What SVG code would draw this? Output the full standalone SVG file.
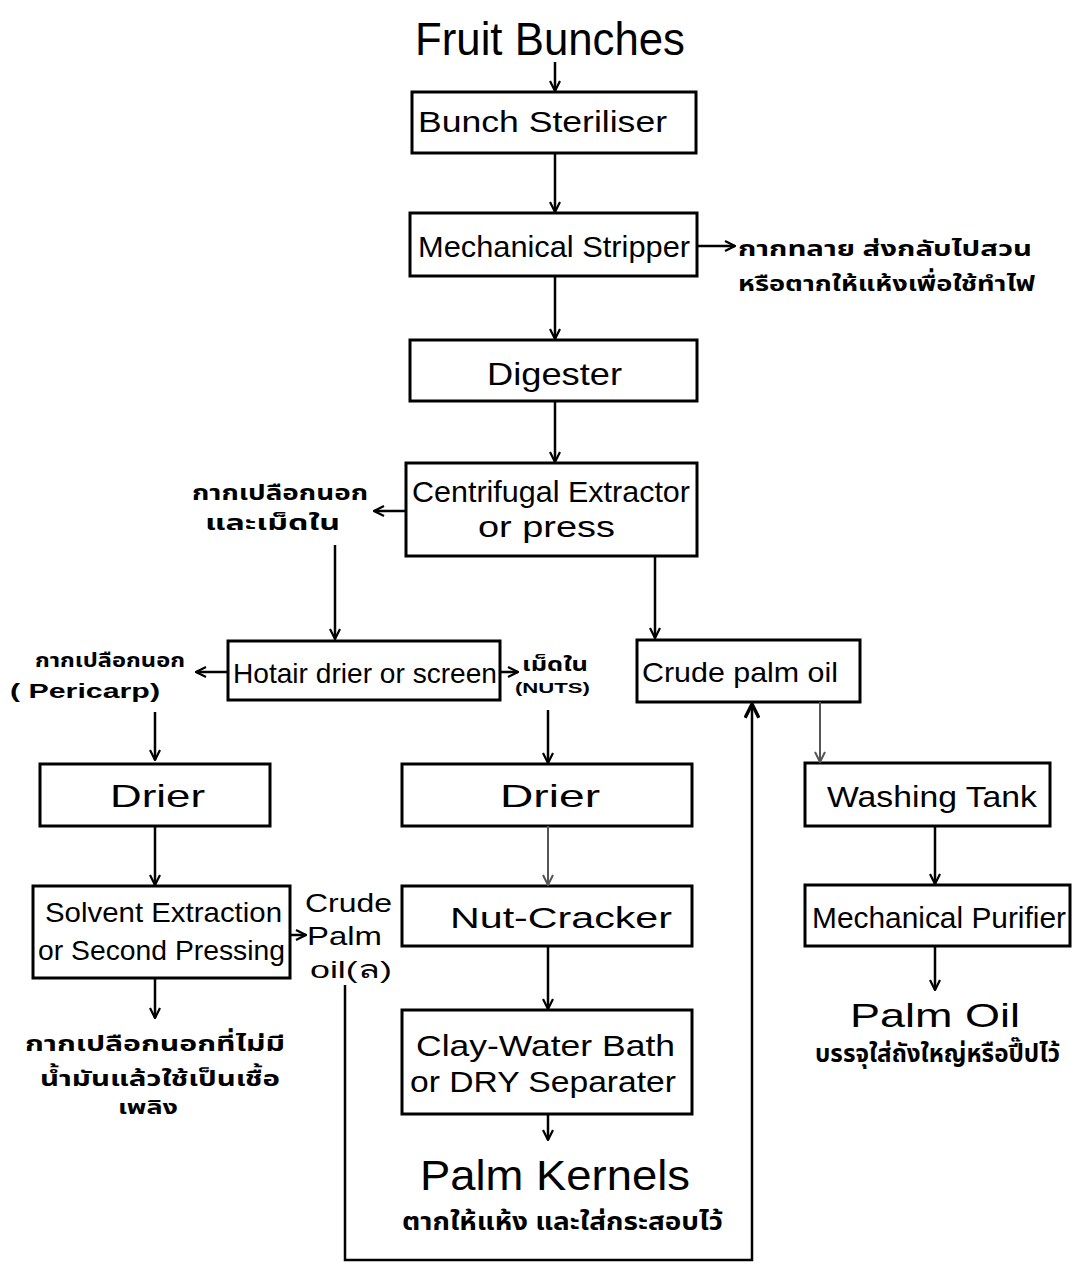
<svg xmlns="http://www.w3.org/2000/svg" width="1073" height="1272" viewBox="0 0 1073 1272">
<defs>
<marker id="ah" viewBox="0 0 12 12" refX="11" refY="6" markerWidth="12" markerHeight="12" markerUnits="userSpaceOnUse" orient="auto">
<path d="M1,1 L11,6 L1,11" fill="none" stroke="#000" stroke-width="2.2"/>
</marker>
<marker id="ahg" viewBox="0 0 12 12" refX="11" refY="6" markerWidth="12" markerHeight="12" markerUnits="userSpaceOnUse" orient="auto">
<path d="M1,1 L11,6 L1,11" fill="none" stroke="#555" stroke-width="2"/>
</marker>
<marker id="ahb" viewBox="0 0 14 14" refX="13" refY="7" markerWidth="16" markerHeight="16" markerUnits="userSpaceOnUse" orient="auto">
<path d="M1,1 L13,7 L1,13" fill="none" stroke="#000" stroke-width="3"/>
</marker>
</defs>
<style>
rect.box{fill:#fff;stroke:#000;stroke-width:3}
text{font-family:"Liberation Sans","DejaVu Sans",sans-serif;fill:#000}
.b{font-size:30px}
.t{font-family:"Noto Sans Thai","Noto Sans","DejaVu Sans",sans-serif;font-weight:bold}
.c line,.c path{stroke:#000;stroke-width:2.5;fill:none}
.c .g{stroke:#555;stroke-width:2}
</style>
<rect width="1073" height="1272" fill="#fff"/>

<g id="fruit-bunches"><text x="415" y="55" font-size="46" textLength="270" lengthAdjust="spacingAndGlyphs">Fruit Bunches</text></g>

<g id="bunch-steriliser"><rect class="box" x="412" y="92" width="284" height="61"/><text class="b" x="418" y="132" textLength="249" lengthAdjust="spacingAndGlyphs">Bunch Steriliser</text></g>

<g id="mechanical-stripper"><rect class="box" x="410" y="213" width="287" height="63"/><text class="b" x="418" y="257" textLength="272" lengthAdjust="spacingAndGlyphs">Mechanical Stripper</text></g>

<g id="stripper-waste"><text class="t" x="738" y="256" font-size="22" textLength="294" lengthAdjust="spacingAndGlyphs">กากทลาย ส่งกลับไปสวน</text><text class="t" x="738" y="291" font-size="22" textLength="297" lengthAdjust="spacingAndGlyphs">หรือตากให้แห้งเพื่อใช้ทำไฟ</text></g>

<g id="digester"><rect class="box" x="410" y="340" width="287" height="61"/><text x="487" y="385" font-size="32" textLength="135" lengthAdjust="spacingAndGlyphs">Digester</text></g>

<g id="centrifugal-extractor"><rect class="box" x="406" y="463" width="291" height="93"/><text class="b" x="412" y="502" textLength="278" lengthAdjust="spacingAndGlyphs">Centrifugal Extractor</text><text class="b" x="478" y="537" textLength="137" lengthAdjust="spacingAndGlyphs">or press</text></g>

<g id="pericarp-nuts-label"><text class="t" x="192" y="500" font-size="22" textLength="176" lengthAdjust="spacingAndGlyphs">กากเปลือกนอก</text><text class="t" x="205" y="530" font-size="22" textLength="135" lengthAdjust="spacingAndGlyphs">และเม็ดใน</text></g>

<g id="hot-air-drier"><rect class="box" x="228" y="641" width="272" height="59"/><text x="233" y="683" font-size="28" textLength="264" lengthAdjust="spacingAndGlyphs">Hotair drier or screen</text></g>

<g id="pericarp-label"><text class="t" x="35" y="667" font-size="19" textLength="150" lengthAdjust="spacingAndGlyphs">กากเปลือกนอก</text><text x="10" y="698" font-size="21" font-weight="bold" textLength="150" lengthAdjust="spacingAndGlyphs">( Pericarp)</text></g>

<g id="nuts-label"><text class="t" x="522" y="671" font-size="19" textLength="66" lengthAdjust="spacingAndGlyphs">เม็ดใน</text><text x="515" y="693" font-size="15" font-weight="bold" textLength="75" lengthAdjust="spacingAndGlyphs">(NUTS)</text></g>

<g id="crude-palm-oil"><rect class="box" x="637" y="640" width="223" height="62"/><text x="642" y="682" font-size="28" textLength="196" lengthAdjust="spacingAndGlyphs">Crude palm oil</text></g>

<g id="drier-left"><rect class="box" x="40" y="764" width="230" height="62"/><text x="110" y="807" font-size="32" textLength="95" lengthAdjust="spacingAndGlyphs">Drier</text></g>

<g id="drier-middle"><rect class="box" x="402" y="764" width="290" height="62"/><text x="500" y="807" font-size="32" textLength="100" lengthAdjust="spacingAndGlyphs">Drier</text></g>

<g id="washing-tank"><rect class="box" x="805" y="763" width="245" height="63"/><text class="b" x="827" y="807" textLength="210" lengthAdjust="spacingAndGlyphs">Washing Tank</text></g>

<g id="solvent-extraction"><rect class="box" x="33" y="886" width="257" height="92"/><text x="45" y="922" font-size="28" textLength="237" lengthAdjust="spacingAndGlyphs">Solvent Extraction</text><text x="38" y="960" font-size="28" textLength="247" lengthAdjust="spacingAndGlyphs">or Second Pressing</text></g>

<g id="crude-palm-oil-2"><text x="305" y="912" font-size="26" textLength="87" lengthAdjust="spacingAndGlyphs">Crude</text><text x="307" y="945" font-size="26" textLength="75" lengthAdjust="spacingAndGlyphs">Palm</text><text x="310" y="978" font-size="24" textLength="82" lengthAdjust="spacingAndGlyphs">oil(ล)</text></g>

<g id="nut-cracker"><rect class="box" x="402" y="886" width="290" height="60"/><text class="b" x="450" y="928" textLength="222" lengthAdjust="spacingAndGlyphs">Nut-Cracker</text></g>

<g id="mechanical-purifier"><rect class="box" x="805" y="885" width="265" height="61"/><text class="b" x="812" y="928" textLength="254" lengthAdjust="spacingAndGlyphs">Mechanical Purifier</text></g>

<g id="fibre-fuel"><text class="t" x="25" y="1051" font-size="22" textLength="260" lengthAdjust="spacingAndGlyphs">กากเปลือกนอกที่ไม่มี</text><text class="t" x="40" y="1086" font-size="22" textLength="240" lengthAdjust="spacingAndGlyphs">น้ำมันแล้วใช้เป็นเชื้อ</text><text class="t" x="118" y="1114" font-size="19" textLength="60" lengthAdjust="spacingAndGlyphs">เพลิง</text></g>

<g id="clay-water-bath"><rect class="box" x="402" y="1010" width="290" height="104"/><text class="b" x="416" y="1056" textLength="259" lengthAdjust="spacingAndGlyphs">Clay-Water Bath</text><text class="b" x="410" y="1092" textLength="266" lengthAdjust="spacingAndGlyphs">or DRY Separater</text></g>

<g id="palm-kernels"><text x="420" y="1190" font-size="42" textLength="270" lengthAdjust="spacingAndGlyphs">Palm  Kernels</text><text class="t" x="402" y="1230" font-size="25" textLength="321" lengthAdjust="spacingAndGlyphs">ตากให้แห้ง และใส่กระสอบไว้</text></g>

<g id="palm-oil"><text x="850" y="1027" font-size="34" textLength="170" lengthAdjust="spacingAndGlyphs">Palm Oil</text><text class="t" x="815" y="1062" font-size="24" textLength="245" lengthAdjust="spacingAndGlyphs">บรรจุใส่ถังใหญ่หรือปี๊ปไว้</text></g>

<g id="connectors" class="c">
<line x1="555" y1="62" x2="555" y2="91" marker-end="url(#ah)"/>
<line x1="555" y1="153" x2="555" y2="212" marker-end="url(#ah)"/>
<line x1="697" y1="246" x2="735" y2="246" marker-end="url(#ah)"/>
<line x1="555" y1="276" x2="555" y2="339" marker-end="url(#ah)"/>
<line x1="555" y1="401" x2="555" y2="462" marker-end="url(#ah)"/>
<line x1="406" y1="511" x2="374" y2="511" marker-end="url(#ah)"/>
<line x1="335" y1="545" x2="335" y2="639" marker-end="url(#ah)"/>
<line x1="655" y1="556" x2="655" y2="638" marker-end="url(#ah)"/>
<line x1="228" y1="672" x2="196" y2="672" marker-end="url(#ah)"/>
<line x1="500" y1="672" x2="518" y2="672" marker-end="url(#ah)"/>
<line x1="155" y1="712" x2="155" y2="760" marker-end="url(#ah)"/>
<line x1="548" y1="710" x2="548" y2="763" marker-end="url(#ah)"/>
<line class="g" x1="820" y1="702" x2="820" y2="762" marker-end="url(#ahg)"/>
<line x1="155" y1="826" x2="155" y2="885" marker-end="url(#ah)"/>
<line x1="290" y1="935" x2="306" y2="935" marker-end="url(#ah)"/>
<line class="g" x1="548" y1="826" x2="548" y2="885" marker-end="url(#ahg)"/>
<line x1="548" y1="946" x2="548" y2="1009" marker-end="url(#ah)"/>
<line x1="548" y1="1114" x2="548" y2="1140" marker-end="url(#ah)"/>
<line x1="155" y1="978" x2="155" y2="1018" marker-end="url(#ah)"/>
<line x1="935" y1="826" x2="935" y2="884" marker-end="url(#ah)"/>
<line x1="935" y1="946" x2="935" y2="990" marker-end="url(#ah)"/>
<path d="M345,985 L345,1260 L752,1260 L752,704" stroke-width="3" marker-end="url(#ahb)"/>
</g>
</svg>
